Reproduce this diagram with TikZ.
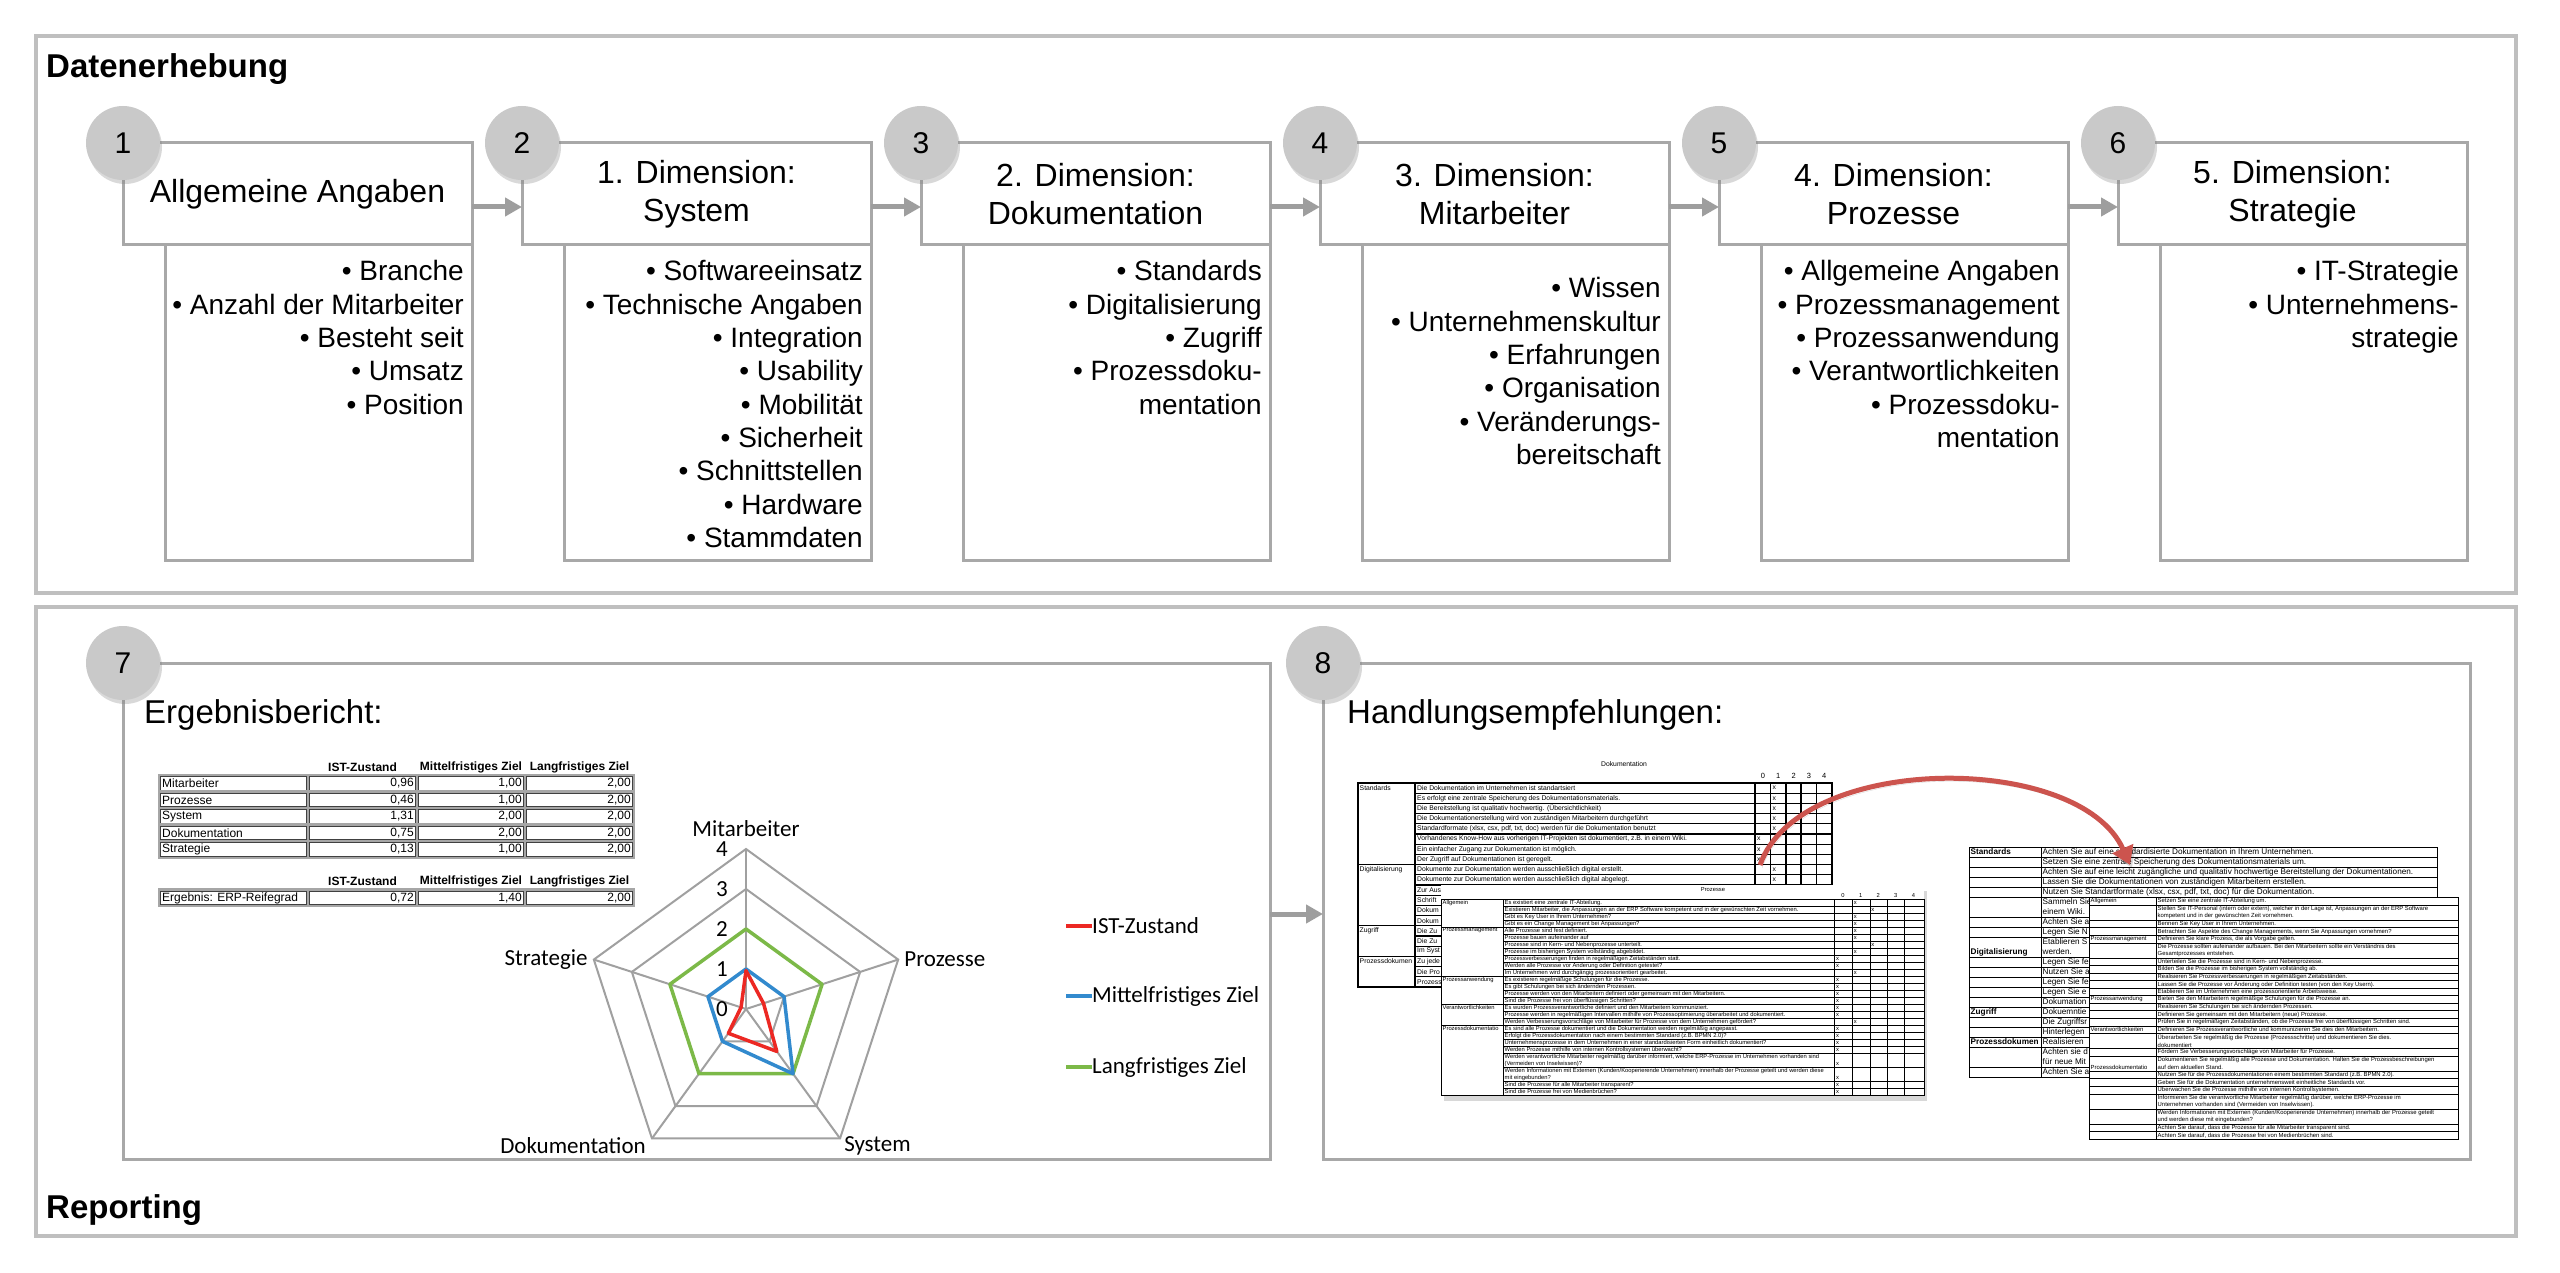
\documentclass[tikz,border=0pt]{standalone}
\usepackage{fontspec}
\setmainfont{Liberation Sans}
\newfontfamily\chartfont{Carlito}
\usetikzlibrary{arrows.meta,shadows,positioning}

\definecolor{framegray}{RGB}{191,191,191}
\definecolor{boxgray}{RGB}{168,168,168}
\definecolor{dotgray}{RGB}{201,201,201}
\definecolor{flowgray}{RGB}{158,158,158}
\definecolor{webgray}{RGB}{160,160,160}
\definecolor{istred}{RGB}{236,40,35}
\definecolor{mittelblue}{RGB}{50,138,206}
\definecolor{langgreen}{RGB}{124,185,72}
\definecolor{linkred}{RGB}{204,84,78}

\newcommand{\fsz}[2]{\fontsize{#1}{#2}\selectfont}

\tikzset{
  panel/.style={draw=framegray, line width=4pt},
  panelname/.style={anchor=west, inner sep=0pt, font=\bfseries\fsz{33}{40}},
  headbox/.style={draw=boxgray, line width=3pt, fill=white, inner sep=0pt, outer sep=0pt},
  stepdot/.style={circle, fill=dotgray, minimum size=74pt, inner sep=0pt, font=\fsz{30}{36},
    drop shadow={shadow xshift=2pt, shadow yshift=-4pt, opacity=0.3}},
  flowarrow/.style={draw=flowgray, line width=5pt, -{Triangle[length=17pt,width=18pt]}},
  listtext/.style={anchor=base east, inner sep=0pt, font=\fsz{28}{33}},
  boxtitle/.style={anchor=west, inner sep=0pt, font=\fsz{33}{40}},
  % excel table
  xlouter/.style={draw=black!35, line width=2.4pt},
  xlinner/.style={draw=black!75, line width=0.6pt},
  xltext/.style={inner sep=0pt, font=\fsz{12}{14}},
  xlhead/.style={inner sep=0pt, font=\bfseries\fsz{12}{14}},
  % radar chart
  webline/.style={draw=webgray, line width=2pt},
  istline/.style={draw=istred, line width=3.5pt, line join=round},
  mittelline/.style={draw=mittelblue, line width=3.5pt, line join=round},
  langline/.style={draw=langgreen, line width=3.5pt, line join=round},
  chartlabel/.style={inner sep=0pt, font=\chartfont\fsz{23}{28}},
  % screenshot sheets
  sheet/.style={fill=white, inner sep=0pt, outer sep=0pt},
  docgrid/.style={draw=black, line width=1.1pt},
  sheetline/.style={draw=black, line width=0.6pt},
  docsmall/.style={inner sep=0pt, font=\fsz{6.8}{8}},
  procsmall/.style={inner sep=0pt, font=\fsz{5.8}{7}},
  stdsmall/.style={inner sep=0pt, font=\fsz{8.2}{10}},
  advsmall/.style={inner sep=0pt, font=\fsz{5.9}{7.55}},
  linkarrow/.style={draw=linkred, line width=5pt, -{Triangle[length=18pt,width=22pt]},
    preaction={draw=black, opacity=0.15, transform canvas={xshift=2pt,yshift=-3pt}}}
}

\begin{document}
\begin{tikzpicture}[x=1pt, y=-1pt]
\useasboundingbox (0,0) rectangle (2560,1273);

%% Datenerhebung
\draw[panel] (36,36) rectangle (2516,593);
\node[panelname] (collectName) at (46,69) {Datenerhebung};

\foreach \k/\ttl [count=\j from 0] in {1/{Allgemeine Angaben},2/{1. Dimension:\\System},3/{2. Dimension:\\Dokumentation},4/{3. Dimension:\\Mitarbeiter},5/{4. Dimension:\\Prozesse},6/{5. Dimension:\\Strategie}}{
  \node[headbox, anchor=north west, minimum width=349pt, minimum height=102pt,
        align=center, font=\fsz{32}{38}] (head\k) at (123+399*\j,143) {\ttl};
  \node[headbox, anchor=north east, minimum width=307pt, minimum height=315pt] (list\k) at (head\k.south east) {};
}

\foreach \a/\b in {1/2,2/3,3/4,4/5,5/6}
  \draw[flowarrow] ([yshift=-13pt]head\a.east) -- ([yshift=-13pt]head\b.west);

\foreach \k in {1,...,6}
  \node[stepdot] (dot\k) at (head\k.north west) {\k};

\foreach \k/\yy/\items in {1/281/{• Branche, • Anzahl der Mitarbeiter, • Besteht seit, • Umsatz, • Position},2/281/{• Softwareeinsatz, • Technische Angaben, • Integration, • Usability, • Mobilität, • Sicherheit, • Schnittstellen, • Hardware, • Stammdaten},3/281/{• Standards, • Digitalisierung, • Zugriff, • Prozessdoku-, mentation},4/298/{• Wissen, • Unternehmenskultur, • Erfahrungen, • Organisation, • Veränderungs-, bereitschaft},5/281/{• Allgemeine Angaben, • Prozessmanagement, • Prozessanwendung, • Verantwortlichkeiten, • Prozessdoku-, mentation},6/281/{• IT-Strategie, • Unternehmens-, strategie}}{
  \foreach \t [count=\j from 0] in \items
    \node[listtext] at (399*\k+65,\yy+33.3*\j) {\t};
}

%% Reporting
\draw[panel] (36,607) rectangle (2516,1236);
\node[panelname] (reportName) at (46,1210) {Reporting};

\node[headbox, anchor=north west, minimum width=1147pt, minimum height=496pt] (report) at (123,663) {};
\node[headbox, anchor=north west, minimum width=1147pt, minimum height=496pt] (advice) at (1323,663) {};
\draw[flowarrow] ([yshift=-3pt]report.east) -- ([yshift=-3pt]advice.west);
\node[stepdot] (dot7) at (report.north west) {7};
\node[stepdot] (dot8) at (advice.north west) {8};

\node[boxtitle] (reportTitle) at (144,715) {Ergebnisbericht:};
\node[boxtitle] (adviceTitle) at (1347,715) {Handlungsempfehlungen:};

% result table
\foreach \hd/\xc in {IST-Zustand/362.5,Mittelfristiges Ziel/471,Langfristiges Ziel/579.5}{
  \node[xlhead] at (\xc,767) {\hd};
  \node[xlhead] at (\xc,881) {\hd};
}
\foreach \dim/\vist/\vmid/\vlang [count=\i from 0] in {Mitarbeiter/{0,96}/{1,00}/{2,00},Prozesse/{0,46}/{1,00}/{2,00},System/{1,31}/{2,00}/{2,00},Dokumentation/{0,75}/{2,00}/{2,00},Strategie/{0,13}/{1,00}/{2,00}}{
  \foreach \xl/\xr in {159/308,308/417,417/525,525/634}{
    \draw[xlouter] (\xl,775+16.5*\i) rectangle (\xr,791.5+16.5*\i);
    \draw[xlinner] (\xl+1.7,776.7+16.5*\i) rectangle (\xr-1.7,789.8+16.5*\i);
  }
  \node[xltext, anchor=west] at (162,783.5+16.5*\i) {\dim};
  \node[xltext, anchor=east] at (414,783.5+16.5*\i) {\vist};
  \node[xltext, anchor=east] at (522,783.5+16.5*\i) {\vmid};
  \node[xltext, anchor=east] at (631,783.5+16.5*\i) {\vlang};
}
\foreach \xl/\xr in {159/308,308/417,417/525,525/634}{
  \draw[xlouter] (\xl,889.5) rectangle (\xr,906);
  \draw[xlinner] (\xl+1.7,891.2) rectangle (\xr-1.7,904.3);
}
\node[xltext, anchor=west] (erpName) at (162,898) {Ergebnis: ERP-Reifegrad};
\node[xltext, anchor=east] at (414,898) {0,72};
\node[xltext, anchor=east] at (522,898) {1,40};
\node[xltext, anchor=east] at (631,898) {2,00};

% radar chart
\begin{scope}[shift={(746,1009)}, y=1pt]
  \foreach \v in {1,...,4}
    \draw[webline] (90:\v*40) -- (18:\v*40) -- (-54:\v*40) -- (-126:\v*40) -- (162:\v*40) -- cycle;
  \foreach \a in {90,18,-54,-126,162}
    \draw[webline] (0,0) -- (\a:160);
  \draw[langline] (90:80) -- (18:80) -- (-54:80) -- (-126:80) -- (162:80) -- cycle;
  \draw[mittelline] (90:40) -- (18:40) -- (-54:80) -- (-126:40) -- (162:40) -- cycle;
  \draw[istline] (90:38.4) -- (18:18.4) -- (-54:52.4) -- (-126:30) -- (162:5.2) -- cycle;
  \foreach \v in {0,...,4}
    \node[chartlabel, anchor=east] (tick\v) at (-18,\v*40) {\v};
  \node[chartlabel] (axisMit) at (90:180) {Mitarbeiter};
  \node[chartlabel, anchor=west] (axisPro) at ([xshift=6pt]18:160) {Prozesse};
  \node[chartlabel, anchor=west] (axisSys) at ([shift={(4pt,-7pt)}]-54:160) {System};
  \node[chartlabel, anchor=east] (axisDok) at ([shift={(-6pt,-7pt)}]-126:160) {Dokumentation};
  \node[chartlabel, anchor=east] (axisStr) at ([xshift=-6pt]162:160) {Strategie};
\end{scope}

\foreach \nm/\col/\yy in {IST-Zustand/istred/926,Mittelfristiges Ziel/mittelblue/996,Langfristiges Ziel/langgreen/1067}{
  \draw[\col, line width=4pt] (1066,\yy) -- (1092,\yy);
  \node[chartlabel, anchor=west] at (1092,\yy) {\nm};
}

%% sheet: Dokumentation
\node[docsmall] (docTitle) at (1624,764) {Dokumentation};
\foreach \d [count=\j from 0] in {0,...,4}
  \node[docsmall, font=\fsz{7.5}{8}] at (1763+15.3*\j,776) {\d};
\foreach \t/\m [count=\i from 0] in {{Die Dokumentation im Unternehmen ist standartsiert}/1,{Es erfolgt eine zentrale Speicherung des Dokumentationsmaterials.}/1,{Die Bereitstellung ist qualitativ hochwertig. (Übersichtlichkeit)}/1,{Die Dokumentationerstellung wird von zuständigen Mitarbeitern durchgeführt}/1,{Standardformate (xlsx, csx, pdf, txt, doc) werden für die Dokumentation benutzt}/1,{Vorhandenes Know-How aus vorherigen IT-Projekten ist dokumentiert, z.B. in einem Wiki.}/0,{Ein einfacher Zugang zur Dokumentation ist möglich.}/0,{Der Zugriff auf Dokumentationen ist geregelt.}/0,{Dokumente zur Dokumentation werden ausschließlich digital erstellt.}/1,{Dokumente zur Dokumentation werden ausschließlich digital abgelegt.}/1,{Zur Aus}/-1,{Schrift}/-1,{Dokum}/-1,{Dokum}/-1,{Die Zu}/-1,{Die Zu}/-1,{Im Syst}/-1,{Zu jede}/-1,{Die Pro}/-1,{Prozess}/-1}{
  \draw[docgrid] (1415,783+10.2*\i) rectangle (1832,793.2+10.2*\i);
  \foreach \xx in {1755,1770.5,1786,1801,1816.5}
    \draw[docgrid] (\xx,783+10.2*\i) -- (\xx,793.2+10.2*\i);
  \node[docsmall, anchor=west] at (1417,788.1+10.2*\i) {\t};
  \ifnum\m>-1 \node[docsmall, anchor=west] at (1757+15.4*\m,788.1+10.2*\i) {x};\fi
}
\foreach \g/\ua/\ub in {Standards/0/8,Digitalisierung/8/14,Zugriff/14/17,Prozessdokumen/17/20}{
  \draw[docgrid] (1358,783+10.2*\ua) rectangle (1415,783+10.2*\ub);
  \node[docsmall, anchor=west] at (1359.5,788.1+10.2*\ua) {\g};
}

%% sheet: Prozesse
\node[sheet, anchor=north west, minimum width=483pt, minimum height=210pt,
      drop shadow={shadow xshift=3pt, shadow yshift=-6pt, opacity=0.3}] (procSheet) at (1441,885) {};
\node[procsmall] (procTitle) at (1713,890) {Prozesse};
\foreach \d [count=\j from 0] in {0,...,4}
  \node[procsmall] at (1843+17.6*\j,895) {\d};
\foreach \u/\n/\m/\t in {0/1/1/{Es existiert eine zentrale IT-Abteilung.},1/1/2/{Existieren Mitarbeiter, die Anpassungen an der ERP Software kompetent und in der gewünschten Zeit vornehmen.},2/1/1/{Gibt es Key User in Ihrem Unternehmen?},3/1/1/{Gibt es ein Change Management bei Anpassungen?},4/1/1/{Alle Prozesse sind fest definiert.},5/1/1/{Prozesse bauen aufeinander auf},6/1/2/{Prozesse sind in Kern- und Nebenprozesse unterteilt.},7/1/1/{Prozesse im bisherigen System vollständig abgebildet.},8/1/0/{Prozessverbesserungen finden in regelmäßigen Zeitabständen statt.},9/1/0/{Werden alle Prozesse vor Änderung oder Definition getestet?},10/1/1/{Im Unternehmen wird durchgängig prozessorientiert gearbeitet.},11/1/0/{Es existieren regelmäßige Schulungen für die Prozesse.},12/1/0/{Es gibt Schulungen bei sich ändernden Prozessen.},13/1/0/{Prozesse werden von den Mitarbeitern definiert oder gemeinsam mit den Mitarbeitern.},14/1/0/{Sind die Prozesse frei von überflüssigen Schritten?},15/1/0/{Es wurden Prozessverantwortliche definiert und den Mitarbeitern kommuniziert.},16/1/0/{Prozesse werden in regelmäßigen Intervallen mithilfe von Prozessoptimierung überarbeitet und dokumentiert.},17/1/1/{Werden Verbesserungsvorschläge von Mitarbeiter für Prozesse von dem Unternehmen gefördert?},18/1/0/{Es sind alle Prozesse dokumentiert und die  Dokumentation werden regelmäßig angepasst.},19/1/0/{Erfolgt die Prozessdokumentation nach einem bestimmten Standard (z.B. BPMN 2.0)?},20/1/0/{Unternehmensprozesse in dem Unternehmen in einer standardisierten Form einheitlich dokumentiert?},21/1/0/{Werden Prozesse mithilfe von internen Kontrollsystemen überwacht?},22/2/0/{Werden verantwortliche Mitarbeiter regelmäßig darüber informiert, welche ERP-Prozesse im Unternehmen vorhanden sind\\(Vermeiden von Inselwissen)?},24/2/0/{Werden Informationen mit Externen (Kunden/Kooperierende Unternehmen) innerhalb der Prozesse geteilt und werden diese\\mit eingebunden?},26/1/0/{Sind die Prozesse für alle Mitarbeiter transparent?},27/1/0/{Sind die Prozesse frei von Medienbrüchen?}}{
  \draw[sheetline] (1503,899+7*\u) rectangle (1924,899+7*\u+7*\n);
  \foreach \xx in {1834,1852,1870,1887,1904}
    \draw[sheetline] (\xx,899+7*\u) -- (\xx,899+7*\u+7*\n);
  \node[procsmall, anchor=west, align=left] at (1504.5,899+7*\u+3.5*\n) {\t};
  \node[procsmall, anchor=west] at (1836+17.6*\m,899+7*\u+7*\n-3.5) {x};
}
\foreach \g/\ua/\nb in {Allgemein/0/4,Prozessmanagement/4/7,Prozessanwendung/11/4,Verantwortlichkeiten/15/3,Prozessdokumentatio/18/10}{
  \draw[sheetline] (1441,899+7*\ua) rectangle (1503,899+7*\ua+7*\nb);
  \node[procsmall, anchor=west] at (1442.5,902.5+7*\ua) {\g};
}

%% sheet: Standards advice
\node[sheet, anchor=north west, minimum width=468pt, minimum height=230pt] (stdSheet) at (1969,847) {};
\foreach \u/\n/\t in {0/1/{Achten Sie auf eine standardisierte Dokumentation in Ihrem Unternehmen.},1/1/{Setzen Sie eine zentrale Speicherung des Dokumentationsmaterials um.},2/1/{Achten Sie auf eine leicht zugängliche und qualitativ hochwertige Bereitstellung der Dokumentationen.},3/1/{Lassen Sie die Dokumentationen von zuständigen Mitarbeitern erstellen.},4/1/{Nutzen Sie Standartformate (xlsx, csx, pdf, txt, doc)  für die Dokumentation.},5/2/{Sammeln Sie\\einem Wiki.},7/1/{Achten Sie a},8/1/{Legen Sie N},9/2/{Etablieren S\\werden.},11/1/{Legen Sie fe},12/1/{Nutzen Sie a},13/1/{Legen Sie fe},14/1/{Legen Sie e},15/1/{Dokumation},16/1/{Dokuemntie},17/1/{Die Zugriffsr},18/1/{Hinterlegen},19/1/{Realisieren},20/2/{Achten sie d\\für neue Mit},22/1/{Achten Sie a}}{
  \draw[sheetline] (1969,847+10*\u) rectangle (2437,847+10*\u+10*\n);
  \draw[sheetline] (2041,847+10*\u) -- (2041,847+10*\u+10*\n);
  \node[stdsmall, anchor=west, align=left] at (2042.5,847+10*\u+5*\n) {\t};
}
\foreach \g/\yy in {Standards/0.5,Digitalisierung/10.5,Zugriff/16.5,Prozessdokumen/19.5}
  \node[stdsmall, font=\bfseries\fsz{8.2}{10}, anchor=west] at (1970.5,847+10*\yy) {\g};

%% sheet: Prozesse advice
\node[sheet, anchor=north west, minimum width=369pt, minimum height=241.6pt] (advSheet) at (2089,897.5) {};
\foreach \u/\n/\t in {0/1/{Setzen Sie eine zentrale IT-Abteilung um.},1/2/{Stellen Sie IT-Personal (intern oder extern), welcher in der Lage ist, Anpassungen an der ERP Software\\kompetent und in der gewünschten Zeit vornehmen.},3/1/{Bennen Sie Key User in Ihrem Unternehmen.},4/1/{Betrachten Sie Aspekte des Change Managements, wenn Sie Anpassungen vornehmen?},5/1/{Definieren Sie klare Prozess, die als Vorgabe gelten.},6/2/{Die Prozesse sollten aufeinander aufbauen. Bei den Mitarbeitern sollte ein Verständnis des\\Gesamtprozesses entstehen.},8/1/{Unterteilen Sie die Prozesse sind in Kern- und Nebenprozesse.},9/1/{Bilden Sie die Prozesse im bisherigen System vollständig ab.},10/1/{Realisieren Sie Prozessverbesserungen in regelmäßigen Zeitabständen.},11/1/{Lassen Sie die Prozesse vor Änderung oder Definition testen (von den Key Usern).},12/1/{Etablieren Sie im Unternehmen eine prozessorientierte Arbeitsweise.},13/1/{Bieten Sie den Mitarbeitern regelmäßige Schulungen für die Prozesse an.},14/1/{Realisieren Sie Schulungen bei sich ändernden Prozessen.},15/1/{Definieren Sie gemeinsam mit den Mitarbeitern (neue) Prozesse.},16/1/{Prüfen Sie in regelmäßigen Zeitabständen, ob die Prozesse frei von überflüssigen Schritten sind.},17/1/{Definieren Sie Prozessverantwortliche und kommunizieren Sie dies den Mitarbeitern.},18/2/{Überarbeiten Sie regelmäßig die Prozesse (Prozessschritte) und dokumentieren Sie dies.\\dokumentiert},20/1/{Fördern Sie  Verbesserungsvorschläge von Mitarbeiter für Prozesse.},21/2/{Dokumentieren Sie regelmäßig alle Prozesse und Dokumentation. Halten Sie die Prozessbeschreibungen\\auf dem aktuellen Stand.},23/1/{Nutzen Sie für die Prozessdokumentationen  einem bestimmten Standard (z.B. BPMN 2.0).},24/1/{Geben Sie für die Dokumentation unternehmensweit einheitliche Standards vor.},25/1/{Überwachen Sie die Prozesse mithilfe von internen Kontrollsystemen.},26/2/{Informieren Sie die verantwortliche Mitarbeiter regelmäßig darüber, welche ERP-Prozesse im\\Unternehmen vorhanden sind (Vermeiden von Inselwissen).},28/2/{Werden Informationen mit Externen (Kunden/Kooperierende Unternehmen) innerhalb der Prozesse geteilt\\und werden diese mit eingebunden?},30/1/{Achten Sie darauf, dass die Prozesse für alle Mitarbeiter transparent sind.},31/1/{Achten Sie darauf, dass die Prozesse frei von Medienbrüchen sind.}}{
  \draw[sheetline] (2089,897.5+7.55*\u) rectangle (2458,897.5+7.55*\u+7.55*\n);
  \draw[sheetline] (2156,897.5+7.55*\u) -- (2156,897.5+7.55*\u+7.55*\n);
  \node[advsmall, anchor=west, align=left] at (2157.5,897.5+7.55*\u+3.775*\n) {\t};
}
\foreach \g/\yy in {Allgemein/0.5,Prozessmanagement/5.5,Prozessanwendung/13.5,Verantwortlichkeiten/17.5,Prozessdokumentatio/22.5}
  \node[advsmall, anchor=west] at (2090.5,897.5+7.55*\yy) {\g};

% link between the sheets
\coordinate (linkFrom) at (1760,865);
\coordinate (linkTo) at (2130,865);
\draw[linkarrow] (linkFrom) .. controls +(40,-113) and +(-50,-113) .. (linkTo);
\end{tikzpicture}
\end{document}
